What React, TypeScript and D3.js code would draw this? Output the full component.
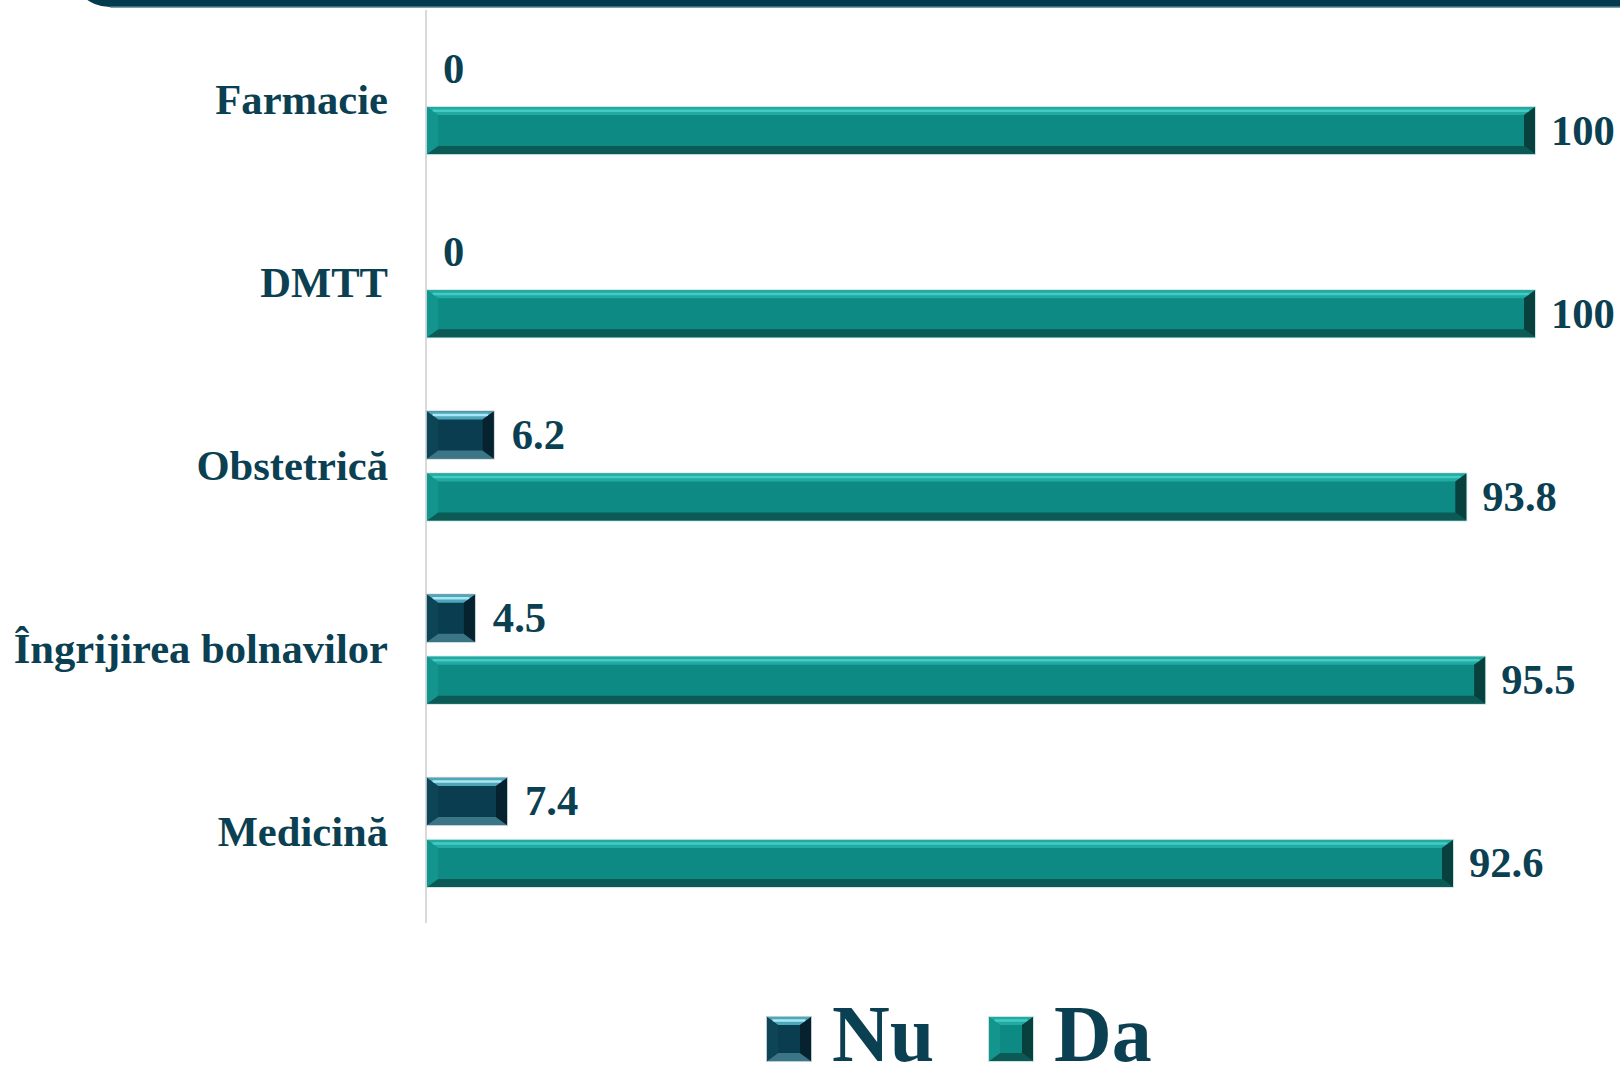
import React from 'react'
import * as d3 from 'd3'

const categories = ['Farmacie', 'DMTT', 'Obstetrică', 'Îngrijirea bolnavilor', 'Medicină']
const seriesNames = ['Nu', 'Da']
const nuValues = [0, 0, 6.2, 4.5, 7.4]
const daValues = [100, 100, 93.8, 95.5, 92.6]

const W = 1620
const H = 1069
const textColor = '#0b3f52'
const font = '"Liberation Serif", "Times New Roman", serif'

const palette: Record<string, any> = {
  Nu: { face: '#0b3d51', top: '#4fa6ba', hi: '#a6e8f4', left: '#0d4557', right: '#05222e', bottom: '#3a7686', edge: '#8fa9b1' },
  Da: { face: '#0e8a84', top: '#22aaa2', hi: '#42cbc2', left: '#13958e', right: '#08403d', bottom: '#0c5a55', edge: '#a6d2ce' }
}

function Bevel({ x, y, w, h, name }: { x: number; y: number; w: number; h: number; name: string }) {
  if (w <= 0) return null
  const c = palette[name]
  const bx = Math.min(11, w / 2)
  const by = Math.min(8, h / 2)
  const x2 = x + w
  const y2 = y + h
  const pts = (p: number[][]) => p.map(d => d.join(',')).join(' ')
  return (
    <g>
      <rect x={x - 1} y={y - 1} width={w + 2} height={h + 2} fill={c.edge} opacity={0.6} />
      <rect x={x} y={y} width={w} height={h} fill={c.face} />
      <polygon points={pts([[x, y], [x2, y], [x2 - bx, y + by], [x + bx, y + by]])} fill={c.top} />
      <line x1={x + bx * 0.5} x2={x2 - bx * 0.5} y1={y + by * 0.45} y2={y + by * 0.45} stroke={c.hi} strokeWidth={2.5} />
      <polygon points={pts([[x, y2], [x2, y2], [x2 - bx, y2 - by], [x + bx, y2 - by]])} fill={c.bottom} />
      <polygon points={pts([[x, y], [x + bx, y + by], [x + bx, y2 - by], [x, y2]])} fill={c.left} />
      <polygon points={pts([[x2, y], [x2 - bx, y + by], [x2 - bx, y2 - by], [x2, y2]])} fill={c.right} />
    </g>
  )
}

export default function App() {
  const x = d3.scaleLinear().domain([0, 100]).range([427, 1535])
  const y0 = d3.scaleBand<string>().domain(categories).range([8, 8 + 5 * 183.2]).paddingInner(0.405).paddingOuter(0.2025)
  const y1 = d3.scaleBand<string>().domain(seriesNames).range([0, y0.bandwidth()]).paddingInner(0.242)

  const rows = categories.map((cat, i) => ({ cat, Nu: nuValues[i], Da: daValues[i] }))

  const bandPath = 'M 70 -40 L 1640 -40 L 1640 7 L 110 7 A 40 40 0 0 1 70 -33 Z'

  return (
    <svg width={W} height={H} style={{ position: 'absolute', left: 0, top: 0, display: 'block', background: '#fff' }}>
      <path d={bandPath} fill="#023b4f" />
      <line x1={110} x2={W} y1={7} y2={7} stroke="#4f7f8f" strokeWidth={1.5} />

      <line x1={426} x2={426} y1={10} y2={923} stroke="#d9d9d9" strokeWidth={2} />

      {rows.map(r => {
        const gy = y0(r.cat) as number
        return (
          <g key={r.cat}>
            <text x={388} y={gy + y0.bandwidth() / 2 + 14} textAnchor="end" fontFamily={font} fontWeight="bold" fontSize={42.6} fill={textColor}>
              {r.cat}
            </text>
            {seriesNames.map(s => {
              const v = (r as any)[s] as number
              const by = gy + (y1(s) as number)
              const bh = y1.bandwidth()
              return (
                <g key={s}>
                  <Bevel x={x(0)} y={by} w={x(v) - x(0) - (s === 'Nu' ? 2 : 0)} h={bh} name={s} />
                  <text x={x(v) + 16} y={by + bh / 2 + 14} fontFamily={font} fontWeight="bold" fontSize={42.6} fill={textColor}>
                    {v}
                  </text>
                </g>
              )
            })}
          </g>
        )
      })}

      {seriesNames.map((s, i) => {
        const lx = 767 + i * 222
        return (
          <g key={s}>
            <Bevel x={lx} y={1017} w={44} h={44} name={s} />
            <text x={lx + 65} y={1061} fontFamily={font} fontWeight="bold" fontSize={80} fill={textColor}>
              {s}
            </text>
          </g>
        )
      })}
    </svg>
  )
}
